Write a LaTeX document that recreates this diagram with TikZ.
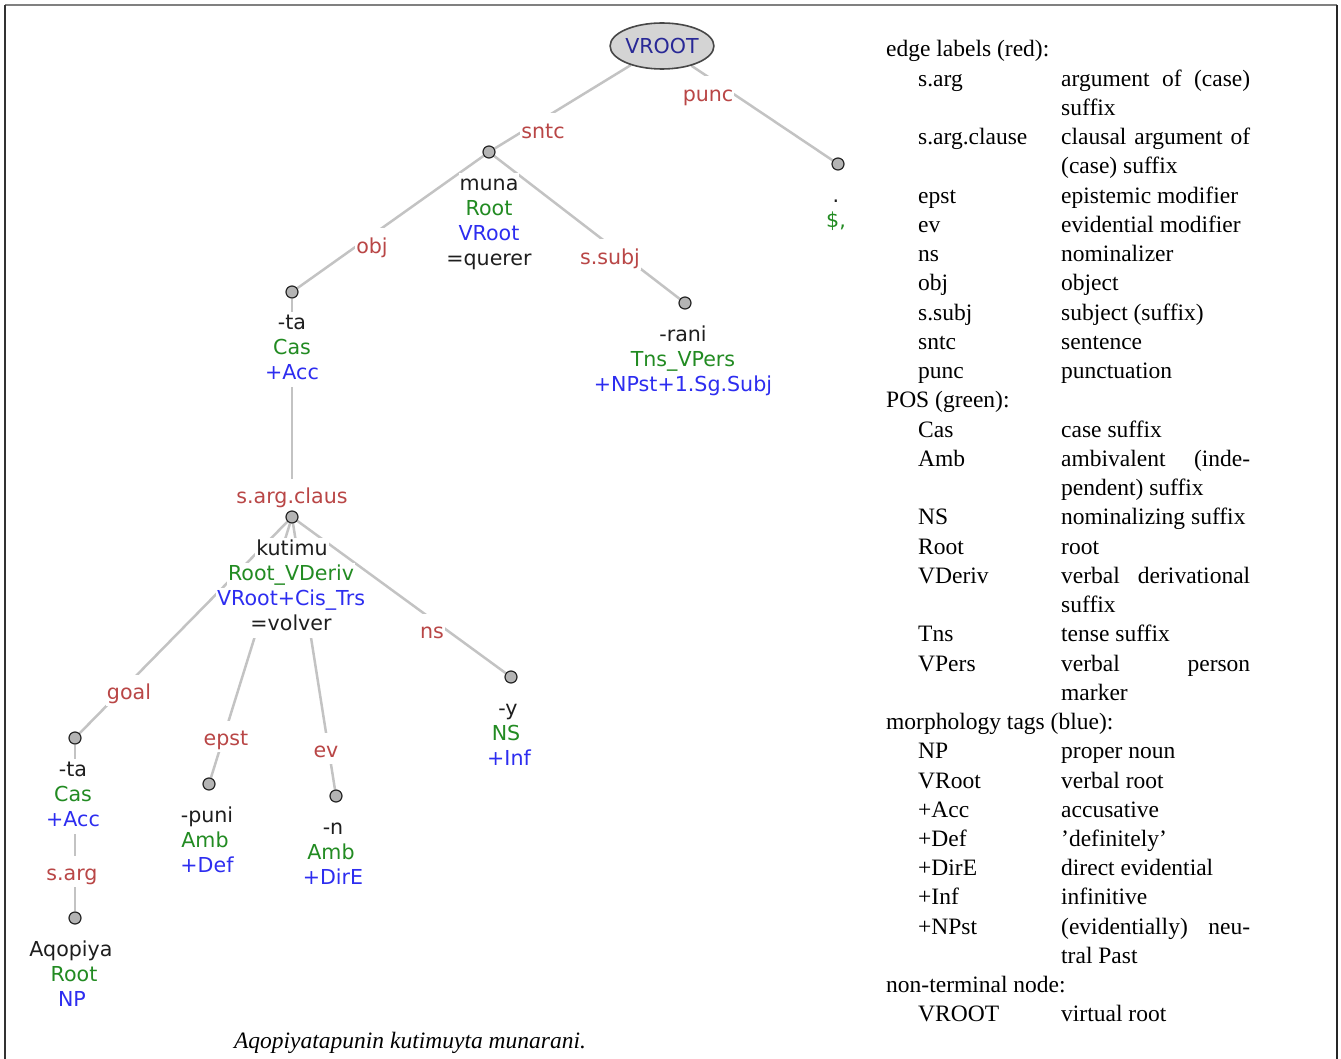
\documentclass[tikz,border=0pt]{standalone}
\usepackage{fontspec}
\setmainfont{DejaVu Sans}
\newfontfamily\lgfont{Liberation Serif}
\usetikzlibrary{shapes.geometric}
\pgfdeclarelayer{bg}
\pgfsetlayers{bg,main}
\definecolor{lblred}{RGB}{185,70,70}
\definecolor{posgreen}{RGB}{34,139,34}
\definecolor{tagblue}{RGB}{45,45,240}
\definecolor{navy}{RGB}{40,40,150}
\definecolor{txt}{RGB}{30,30,30}
\definecolor{edgegray}{RGB}{195,195,195}
\definecolor{dotfill}{RGB}{180,180,180}
\newcommand\jline[1]{\makebox[189pt][s]{#1}}
\begin{document}
\begin{tikzpicture}[x=1pt,y=-1pt,
  treefont/.style={font=\fontsize{20.6}{25}\selectfont},
  tl/.style={treefont,fill=white,inner sep=1pt,text height=14pt,text depth=4pt,minimum height=25pt,text=txt,yshift=-2.5pt},
  el/.style={treefont,fill=white,inner sep=1pt,text height=24pt,text depth=5pt,anchor=base,text=lblred,yshift=-2pt},
  dot/.style={circle,draw=black!85,line width=1.2pt,fill=dotfill,minimum size=12pt,inner sep=0pt},
  conn/.style={draw=edgegray,line width=2.5pt},
  lg/.style={font=\lgfont\fontsize{23.5}{29}\selectfont,inner sep=0pt,anchor=base west,text=black}]
\useasboundingbox (0,0) rectangle (1341,1059);
% frame
\draw[black!50,line width=2pt] (5,5) -- (1337,5);
\draw[black!80,line width=1.6pt] (5,5) -- (5,1059);
\draw[black!85,line width=1.6pt] (1337,5) -- (1337,1059);

% tree nodes
\node[ellipse,draw=black!72,line width=1.6pt,fill=black!17,minimum width=96pt,minimum height=46pt,inner sep=0pt,treefont,text=navy] (vroot) at (662,46) {VROOT};
\node[dot] (muna) at (489,152) {};
\node[dot] (per) at (838,164) {};
\node[dot] (ta) at (292,292) {};
\node[dot] (rani) at (685,303) {};
\node[dot] (kut) at (292,517) {};
\node[dot] (tb) at (75,738) {};
\node[dot] (puni) at (209,784) {};
\node[dot] (nn) at (336,796) {};
\node[dot] (yy) at (511,677) {};
\node[dot] (aqo) at (75,918) {};

% edges
\begin{pgfonlayer}{bg}
\draw[conn] (vroot) -- (muna);
\draw[conn] (vroot) -- (per);
\draw[conn] (muna) -- (ta);
\draw[conn] (muna) -- (rani);
\draw[conn] (ta) -- (kut);
\draw[conn] (kut) -- (tb);
\draw[conn] (kut) -- (puni);
\draw[conn] (kut) -- (nn);
\draw[conn] (kut) -- (yy);
\draw[conn] (tb) -- (aqo);
\end{pgfonlayer}

% edge labels
\node[el] (lsntc) at (543,136.5) {sntc};
\node[el] (lpunc) at (708,99.5) {punc};
\node[el] (lobj) at (372,251.5) {obj};
\node[el] (lsubj) at (610,262.5) {s.subj};
\node[el] (lclaus) at (292,501.5) {s.arg.claus};
\node[el] (lgoal) at (129,697.5) {goal};
\node[el] (lepst) at (226,743.5) {epst};
\node[el] (lev) at (326,755.5) {ev};
\node[el] (lns) at (432,636.5) {ns};
\node[el] (lsarg) at (72,878.5) {s.arg};

% node texts
\node[tl] (muna1) at (489,183) {muna};
\node[tl,text=posgreen] (muna2) at (489,208) {Root};
\node[tl,text=tagblue] (muna3) at (489,233) {VRoot};
\node[tl] (muna4) at (489,258) {=querer};

\node[tl] (per1) at (836,195) {.};
\node[tl,text=posgreen] (per2) at (836,220) {\$,};

\node[tl] (ta1) at (292,322) {-ta};
\node[tl,text=posgreen] (ta2) at (292,347) {Cas};
\node[tl,text=tagblue] (ta3) at (292,372) {+Acc};

\node[tl] (rani1) at (683,334) {-rani};
\node[tl,text=posgreen] (rani2) at (683,359) {Tns\_VPers};
\node[tl,text=tagblue] (rani3) at (683,384) {+NPst+1.Sg.Subj};

\node[tl] (kut1) at (292,548) {kutimu};
\node[tl,text=posgreen] (kut2) at (291,573) {Root\_VDeriv};
\node[tl,text=tagblue] (kut3) at (291,598) {VRoot+Cis\_Trs};
\node[tl] (kut4) at (291,623) {=volver};

\node[tl] (tb1) at (73,769) {-ta};
\node[tl,text=posgreen] (tb2) at (73,794) {Cas};
\node[tl,text=tagblue] (tb3) at (73,819) {+Acc};

\node[tl] (puni1) at (207,815) {-puni};
\node[tl,text=posgreen] (puni2) at (205,840) {Amb};
\node[tl,text=tagblue] (puni3) at (207,865) {+Def};

\node[tl] (nn1) at (333,827) {-n};
\node[tl,text=posgreen] (nn2) at (331,852) {Amb};
\node[tl,text=tagblue] (nn3) at (333,877) {+DirE};

\node[tl] (yy1) at (508,708) {-y};
\node[tl,text=posgreen] (yy2) at (506,733) {NS};
\node[tl,text=tagblue] (yy3) at (509,758) {+Inf};

\node[tl] (aqo1) at (71,949) {Aqopiya};
\node[tl,text=posgreen] (aqo2) at (74,974) {Root};
\node[tl,text=tagblue] (aqo3) at (72,999) {NP};

% caption
\node[font=\lgfont\itshape\fontsize{23.5}{29}\selectfont,inner sep=0pt] (caption) at (410,1043) {Aqopiyatapunin kutimuyta munarani.};

% legend headings
\node[lg] (h0) at (886,{49+0*29.24+8}) {edge labels (red):};
\node[lg] (h12) at (886,{49+12*29.24+8}) {POS (green):};
\node[lg] (h23) at (886,{49+23*29.24+8}) {morphology tags (blue):};
\node[lg] (h32) at (886,{49+32*29.24+8}) {non-terminal node:};

% legend entries
\foreach \i/\a/\b in {
  1/{s.arg}/{\jline{argument of (case)}},
  2/{}/{suffix},
  3/{s.arg.clause}/{\jline{clausal argument of}},
  4/{}/{(case) suffix},
  5/{epst}/{epistemic modifier},
  6/{ev}/{evidential modifier},
  7/{ns}/{nominalizer},
  8/{obj}/{object},
  9/{s.subj}/{subject (suffix)},
  10/{sntc}/{sentence},
  11/{punc}/{punctuation},
  13/{Cas}/{case suffix},
  14/{Amb}/{\jline{ambivalent (inde-}},
  15/{}/{pendent) suffix},
  16/{NS}/{nominalizing suffix},
  17/{Root}/{root},
  18/{VDeriv}/{\jline{verbal derivational}},
  19/{}/{suffix},
  20/{Tns}/{tense suffix},
  21/{VPers}/{\jline{verbal person}},
  22/{}/{marker},
  24/{NP}/{proper noun},
  25/{VRoot}/{verbal root},
  26/{+Acc}/{accusative},
  27/{+Def}/{’definitely’},
  28/{+DirE}/{direct evidential},
  29/{+Inf}/{infinitive},
  30/{+NPst}/{\jline{(evidentially) neu-}},
  31/{}/{tral Past},
  33/{VROOT}/{virtual root}}
{
  \node[lg] (lt\i) at (918,{49+\i*29.24+8}) {\a};
  \node[lg] (ld\i) at (1061,{49+\i*29.24+8}) {\b};
}
\end{tikzpicture}
\end{document}
